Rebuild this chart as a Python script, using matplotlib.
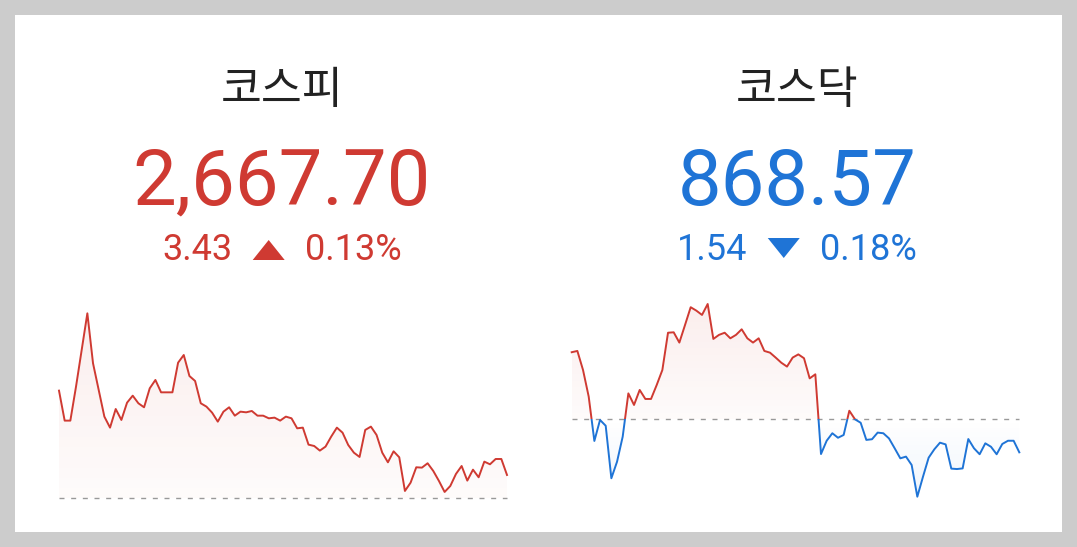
import matplotlib

matplotlib.use("Agg")

import matplotlib.pyplot as plt
import numpy as np
from matplotlib.patches import PathPatch, Polygon, Rectangle

W, H = 1077, 547

# KOSPI intraday
kospi_name = "코스피"
kospi_close = 2667.70
kospi_change = 3.43
kospi_pct = 0.13
kospi_prev = 2664.27
kospi_values = [
    2680.10, 2675.69, 2675.69, 2680.69, 2686.08, 2691.47, 2684.12, 2680.20, 2676.28, 2674.66,
    2677.40, 2675.79, 2678.33, 2679.36, 2678.24, 2677.65, 2680.44, 2681.67, 2679.85, 2679.85,
    2679.85, 2684.21, 2685.34, 2682.25, 2681.52, 2678.24, 2677.75, 2676.86, 2675.54, 2677.01,
    2677.65, 2676.42, 2677.01, 2676.91, 2677.11, 2676.42, 2676.42, 2676.03, 2676.13, 2675.69,
    2676.28, 2676.03, 2674.56, 2674.66, 2672.16, 2671.96, 2671.28, 2671.87, 2673.34, 2674.66,
    2673.92, 2672.11, 2670.98, 2670.35, 2674.32, 2674.81, 2673.58, 2670.98, 2669.56, 2671.18,
    2670.30, 2665.35, 2666.57, 2668.83, 2668.78, 2669.42, 2668.29, 2666.82, 2665.20, 2666.08,
    2667.85, 2669.02, 2666.87, 2668.48, 2667.36, 2669.66, 2669.27, 2670.05, 2670.05, 2667.70,
]

# KOSDAQ intraday
kosdaq_name = "코스닥"
kosdaq_close = 868.57
kosdaq_change = 1.54
kosdaq_pct = 0.18
kosdaq_prev = 870.11
kosdaq_values = [
    873.24, 873.30, 872.41, 871.17, 869.10, 870.08, 869.81, 867.36, 868.13, 869.30,
    871.32, 870.78, 871.48, 871.06, 871.06, 871.71, 872.41, 874.15, 874.17, 873.69,
    874.51, 875.34, 875.18, 874.98, 875.49, 873.86, 874.05, 874.15, 873.89, 874.05,
    874.31, 873.89, 873.69, 873.89, 873.30, 873.22, 872.99, 872.75, 872.57, 872.99,
    873.14, 872.96, 872.02, 872.21, 868.49, 869.11, 869.46, 869.25, 869.38, 870.51,
    870.11, 869.95, 869.15, 869.18, 869.49, 869.46, 869.22, 868.76, 868.29, 868.37,
    867.98, 866.50, 867.43, 868.32, 868.71, 869.02, 868.94, 867.81, 867.79, 867.82,
    869.19, 868.76, 868.48, 868.99, 868.83, 868.48, 868.96, 869.11, 869.11, 868.57,
]

RED = "#cf3a32"
BLUE = "#1f74d6"
DASH = "#999999"
PAD = 5  # px of breathing room around each sparkline


def px_box(x0, y0, x1, y1):
    # pixel box (top-left origin) -> figure fraction rect
    return [x0 / W, 1 - y1 / H, (x1 - x0) / W, (y1 - y0) / H]


def fy(y):
    return 1 - y / H


def gradient_fill(ax, x, vals, prev, color, lo, hi, a_lo, a_hi):
    poly = ax.fill_between(x, vals, prev, facecolor="none", edgecolor="none")
    patch = PathPatch(poly.get_paths()[0], transform=ax.transData,
                      facecolor="none", edgecolor="none")
    ax.add_patch(patch)
    rgb = matplotlib.colors.to_rgb(color)
    grad = np.zeros((256, 2, 4))
    grad[..., :3] = rgb
    grad[..., 3] = np.linspace(a_lo, a_hi, 256)[:, None]
    im = ax.imshow(grad, extent=(x[0], x[-1], lo, hi), origin="lower",
                   aspect="auto", interpolation="bilinear", zorder=1)
    im.set_clip_path(patch)


def sparkline(box, vals, prev):
    x0, y0, x1, y1 = box
    ax = fig.add_axes(px_box(x0 - PAD, y0 - PAD, x1 + PAD, y1 + PAD))
    ax.set_axis_off()
    x = np.arange(len(vals))
    v = np.array(vals)
    lo = min(v.min(), prev)
    hi = max(v.max(), prev)
    dx = (len(vals) - 1) * PAD / (x1 - x0)
    dy = (hi - lo) * PAD / (y1 - y0)
    ax.set_xlim(-dx, len(vals) - 1 + dx)
    ax.set_ylim(lo - dy, hi + dy)

    if v.max() > prev:
        gradient_fill(ax, x, v, prev, RED, prev, hi, 0.02, 0.09)
    if v.min() < prev:
        gradient_fill(ax, x, v, prev, BLUE, lo, prev, 0.07, 0.0)

    ax.plot([0, len(vals) - 1], [prev, prev], color=DASH, lw=1.0,
            ls=(0, (3.6, 4.8)), zorder=2)

    big = (hi - lo) * 2
    up, = ax.plot(x, v, color=RED, lw=1.4, zorder=3)
    up.set_clip_path(Rectangle((-5, prev), len(vals) + 10, big, transform=ax.transData))
    dn, = ax.plot(x, v, color=BLUE, lw=1.4, zorder=3)
    dn.set_clip_path(Rectangle((-5, prev - big), len(vals) + 10, big, transform=ax.transData))
    return ax


fig = plt.figure(figsize=(W / 100, H / 100), dpi=100, facecolor="#cccccc")
fig.patches.append(Rectangle((15 / W, fy(532)), 1047 / W, 517 / H, transform=fig.transFigure,
                             facecolor="white", edgecolor="none", zorder=-5))

panels = [
    (282, kospi_name, kospi_close, kospi_change, kospi_pct, kospi_values, kospi_prev,
     (59, 313.3, 507, 498.3)),
    (797, kosdaq_name, kosdaq_close, kosdaq_change, kosdaq_pct, kosdaq_values, kosdaq_prev,
     (571.7, 304, 1019.3, 496.7)),
]

renderer = fig.canvas.get_renderer()
num_font = ["Roboto", "DejaVu Sans"]

for cx, name, close, chg, pct, vals, prev, box in panels:
    up = close >= prev
    col = RED if up else BLUE
    fig.text(cx / W, fy(103), name, ha="center", va="baseline", fontsize=32,
             color="#222222", family=["Noto Sans CJK KR", "DejaVu Sans"], weight="medium")
    fig.text(cx / W, fy(205), f"{close:,.2f}", ha="center", va="baseline", fontsize=56,
             color=col, family=num_font)

    # change line: number, triangle, percent, centred as a group
    left = fig.text(0, fy(260), f"{chg:.2f}", ha="left", va="baseline",
                    fontsize=26, color=col, family=num_font)
    right = fig.text(0, fy(260), f"{pct:.2f}%", ha="left", va="baseline",
                     fontsize=26, color=col, family=num_font)
    wl = left.get_window_extent(renderer).width
    wr = right.get_window_extent(renderer).width
    gap, tw, th = 20, 32, 20
    gx = cx - (wl + gap + tw + gap + wr) / 2
    left.set_x(gx / W)
    tx = gx + wl + gap
    right.set_x((tx + tw + gap) / W)
    if up:
        pts = [(tx, 260), (tx + tw, 260), (tx + tw / 2, 260 - th)]
    else:
        pts = [(tx, 238), (tx + tw, 238), (tx + tw / 2, 238 + th)]
    fig.patches.append(Polygon([(px / W, fy(py)) for px, py in pts], closed=True,
                               transform=fig.transFigure, facecolor=col, edgecolor="none"))

    sparkline(box, vals, prev)

fig.savefig("out.png", dpi=100, facecolor=fig.get_facecolor())
